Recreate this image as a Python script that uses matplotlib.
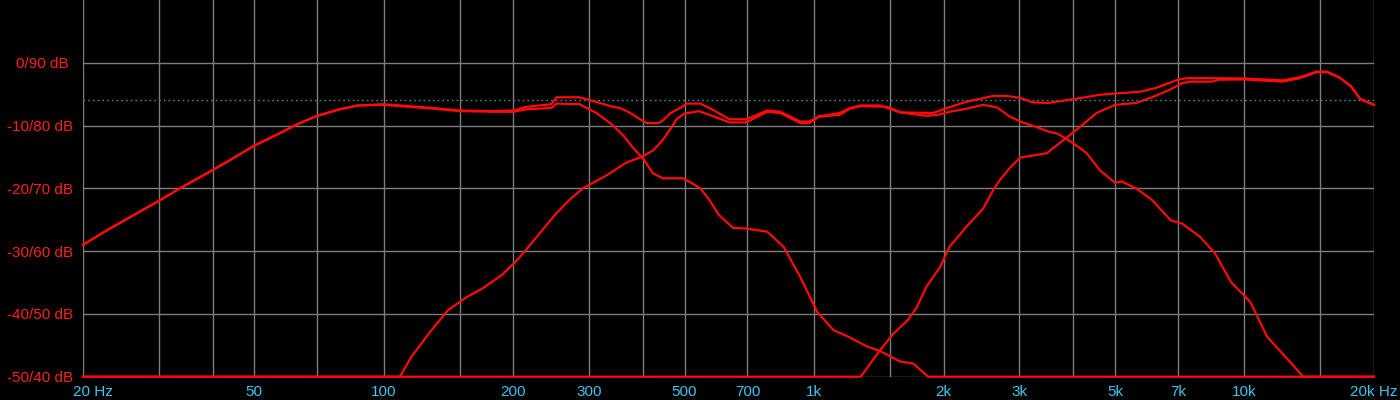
import matplotlib
matplotlib.use("Agg")
import matplotlib.pyplot as plt
import matplotlib.transforms as mtransforms

# ---------------- data ----------------
woofer_f = [20, 22.7, 30, 33.6, 40, 43.9, 50, 57.4, 62.9, 70, 79.1, 87, 100, 130, 150,
            180, 200, 215, 245, 252, 285, 312, 340, 362, 380, 400, 422, 445, 497, 544,
            571, 600, 648, 695, 778, 849, 928, 1017, 1110, 1190, 1328, 1422, 1586, 1700,
            1840, 20000]
woofer_db = [-29.0, -26.7, -22.0, -20.0, -17.1, -15.5, -13.2, -11.2, -9.8, -8.45, -7.4, -6.8,
             -6.7, -7.3, -7.7, -7.8, -7.8, -7.4, -7.2, -6.5, -6.6, -8.0, -9.9, -11.75, -13.6,
             -15.2, -17.6, -18.4, -18.4, -20.0, -21.85, -24.2, -26.3, -26.4, -26.9, -29.3,
             -34.1, -39.7, -42.6, -43.5, -45.2, -45.9, -47.6, -47.9, -50.0, -50.0]

mid_f = [20, 109, 116, 128, 141, 156, 170, 188, 203, 214, 230, 250, 270, 290, 330, 366,
         397, 422, 445, 465, 480, 500, 540, 582, 636, 695, 778, 834, 928, 975, 1025, 1146,
         1213, 1283, 1480, 1586, 1822, 1940, 2064, 2230, 2472, 2660, 2846, 3050, 3275,
         3500, 3680, 4000, 4300, 4610, 5000, 5180, 5600, 6100, 6740, 7160, 7880, 8540,
         9300, 10320, 11290, 12250, 13700, 20000]
mid_db = [-50.0, -50.0, -46.8, -42.9, -39.4, -37.3, -35.9, -33.8, -31.6, -29.8, -27.2, -24.2,
          -21.85, -20.0, -17.9, -15.9, -15.0, -14.0, -12.3, -10.4, -8.9, -8.1, -7.7, -8.5,
          -9.5, -9.5, -7.8, -8.0, -9.6, -9.6, -8.6, -8.3, -7.3, -6.9, -7.0, -7.9, -8.45,
          -8.3, -7.8, -7.4, -6.7, -7.1, -8.55, -9.5, -10.2, -10.95, -11.3, -12.8, -14.4,
          -17.1, -19.1, -18.9, -20.0, -21.85, -25.1, -25.6, -27.7, -30.35, -34.9, -38.1,
          -43.65, -46.3, -50.0, -50.0]

tweeter_f = [20, 1283, 1422, 1530, 1650, 1734, 1822, 1964, 2064, 2260, 2472, 2615, 2706,
             2846, 3010, 3275, 3476, 3560, 3800, 4150, 4530, 5000, 5600, 6100, 6700, 7160,
             7500, 8400, 8700, 10000, 12250, 13460, 14700, 15560, 16700, 17700, 18600, 20000]
tweeter_db = [-50.0, -50.0, -45.8, -43.1, -41.0, -38.9, -35.7, -32.5, -29.3, -26.1, -23.2,
              -20.1, -18.6, -16.8, -15.1, -14.7, -14.4, -13.8, -12.3, -10.2, -8.0, -6.7,
              -6.4, -5.5, -4.3, -3.25, -3.0, -3.0, -2.7, -2.65, -3.0, -2.45, -1.5, -1.5,
              -2.45, -3.8, -5.8, -6.7]

sum_f = [20, 22.7, 30, 33.6, 40, 43.9, 50, 57.4, 62.9, 70, 79.1, 87, 100, 130, 150, 180,
         200, 215, 245, 252, 285, 318, 340, 354, 374, 390, 408, 435, 445, 464, 488, 506,
         544, 582, 636, 695, 778, 834, 928, 975, 1025, 1146, 1213, 1283, 1422, 1586, 1888,
         2036, 2260, 2600, 2807, 3000, 3215, 3500, 4000, 4610, 5000, 5740, 6230, 7000,
         7340, 8600, 10000, 12250, 13460, 14700, 15560, 16700, 17700, 18600, 20000]
sum_db = [-29.0, -26.7, -22.0, -20.0, -17.1, -15.5, -13.2, -11.2, -9.8, -8.45, -7.4, -6.8,
          -6.6, -7.2, -7.6, -7.7, -7.6, -7.0, -6.6, -5.5, -5.5, -6.4, -7.0, -7.2, -8.0,
          -8.8, -9.6, -9.6, -9.2, -8.0, -7.2, -6.5, -6.5, -7.5, -9.0, -9.0, -7.6, -7.8,
          -9.35, -9.35, -8.55, -8.0, -7.2, -6.8, -6.8, -7.9, -8.0, -7.2, -6.2, -5.3, -5.3,
          -5.55, -6.3, -6.4, -5.8, -5.1, -4.9, -4.6, -4.0, -2.7, -2.45, -2.45, -2.5, -2.8,
          -2.3, -1.4, -1.4, -2.4, -3.8, -5.8, -6.7]

grid_freqs = [20, 30, 40, 50, 70, 100, 150, 200, 300, 400, 500, 700, 1000, 1500, 2000,
              3000, 4000, 5000, 7000, 10000, 15000, 20000]
freq_labels = {20: "20 Hz", 50: "50", 100: "100", 200: "200", 300: "300", 500: "500",
               700: "700", 1000: "1k", 2000: "2k", 3000: "3k", 5000: "5k", 7000: "7k",
               10000: "10k", 20000: "20k Hz"}
db_ticks = [0, -10, -20, -30, -40, -50]
db_labels = ["0/90 dB ", "-10/80 dB", "-20/70 dB", "-30/60 dB", "-40/50 dB", "-50/40 dB"]
ref_level = -6

# ---------------- drawing ----------------
W, H = 1400, 400
fig = plt.figure(figsize=(W / 100, H / 100), dpi=100, facecolor="black")
left, right, bottom_px = 83, 1374, 376.7
ax = fig.add_axes([left / W, (H - bottom_px) / H, (right - left) / W, bottom_px / H])
ax.set_facecolor("black")
ax.set_xscale("log")
ax.set_xlim(20, 20000)
ax.set_ylim(-50, 10)
for s in ax.spines.values():
    s.set_visible(False)

ax.set_xticks(grid_freqs)
ax.set_xticklabels([freq_labels.get(f, "") for f in grid_freqs])
ax.xaxis.set_minor_locator(matplotlib.ticker.NullLocator())
ax.set_yticks(db_ticks)
ax.set_yticklabels(db_labels)
ax.tick_params(axis="x", length=0, pad=6, labelsize=11, labelcolor="#3cc4ee")
ax.tick_params(axis="y", length=0, pad=7, labelsize=11, labelcolor="#ff1e1e")
for lab in ax.get_xticklabels() + ax.get_yticklabels():
    lab.set_fontfamily(["Liberation Sans", "DejaVu Sans"])

first = ax.get_xticklabels()[0]
first.set_horizontalalignment("left")
first.set_transform(first.get_transform() +
                    mtransforms.ScaledTranslation(-10 / 100, 0, fig.dpi_scale_trans))

ax.set_axisbelow(True)
ax.grid(True, color="#7d7d7d", lw=1.0)
ax.axhline(ref_level, color="#3f8e8e", lw=1.0, ls=(0, (1.2, 2.2)), zorder=1.5)

for f, d in [(woofer_f, woofer_db), (mid_f, mid_db), (tweeter_f, tweeter_db), (sum_f, sum_db)]:
    ax.plot(f, d, color="#ff0a0a", lw=1.6, clip_on=False, solid_joinstyle="round", zorder=3)

fig.savefig("out.png", dpi=100, facecolor="black")
